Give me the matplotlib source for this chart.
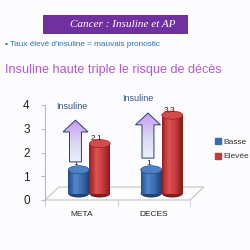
import matplotlib
matplotlib.use("Agg")
import matplotlib.pyplot as plt
import numpy as np
from matplotlib.patches import Ellipse, FancyArrow, Rectangle, Polygon
from matplotlib.colors import LinearSegmentedColormap
from matplotlib.lines import Line2D
from matplotlib.transforms import ScaledTranslation

categories = ["META", "DECES"]
basse = [1.0, 1.0]
elevee = [2.1, 3.3]
basse_labels = ["1", "1"]
elevee_labels = ["2,1", "3,3"]
series_names = ["Basse", "Elevée"]
# insulin arrows (bottom / tip, in chart units)
arrow_lo = [1.33, 1.49]
arrow_hi = [3.09, 3.39]

plt.rcParams['font.family'] = ['Liberation Sans', 'DejaVu Sans']
fig = plt.figure(figsize=(2.5, 2.5), dpi=100, facecolor="#fcfbfd")

# slide header
fig.patches.append(Rectangle((0.172, 0.868), 0.576, 0.072, transform=fig.transFigure,
                             facecolor="#7030a0", edgecolor="#5a2088", lw=0.6))
fig.text(0.492, 0.903, "Cancer : Insuline et AP", color="white", fontsize=8,
         family="Liberation Serif", style="italic", ha="center", va="center")
fig.text(0.02, 0.82, "▪ Taux élevé d'insuline = mauvais pronostic", color="#2e6fae",
         fontsize=5.9, ha="left", va="center")
fig.text(0.02, 0.72, "Insuline haute triple le risque de décès", color="#b458d6",
         fontsize=9.1, ha="left", va="center")

ax = fig.add_axes([0.18, 0.2, 0.58, 0.38])
ax.set_facecolor("none")
x = np.arange(len(categories)) + 0.5
w = 0.29
depth = ax.transData + ScaledTranslation(0.08, 0.065, fig.dpi_scale_trans)

# floor
ax.add_patch(Polygon([(0, 0), (1, 0), (1 + 14 / 145, 13 / 95), (14 / 145, 13 / 95)],
                     closed=True, transform=ax.transAxes, facecolor="none",
                     edgecolor="#c4c4c4", lw=0.8, clip_on=False))

blue_cm = LinearSegmentedColormap.from_list("b", ["#22508e", "#4f86cc", "#3a6cb0", "#1d4478"])
red_cm = LinearSegmentedColormap.from_list("r", ["#9c2222", "#de5252", "#c23a3a", "#861a1a"])
eh = 0.34


def cylinder(xc, val, cmap, top, label):
    ax.add_patch(Ellipse((xc, 0), w, eh, facecolor=cmap(1.0), lw=0, transform=depth, zorder=2))
    n = 24
    ax.bar(xc - w / 2 + np.arange(n) * w / n, [val] * n, width=w / n * 1.05, align="edge",
           color=[cmap(i / (n - 1)) for i in range(n)], lw=0, transform=depth, zorder=3)
    ax.add_patch(Ellipse((xc, val), w, eh, facecolor=top, edgecolor=cmap(1.0), lw=0.4,
                         transform=depth, zorder=4))
    ax.annotate(label, (xc, val), xytext=(-3, 6), textcoords="offset pixels", fontsize=6,
                ha="center", va="center", color="#222222", xycoords=depth, zorder=6)


for i in range(len(categories)):
    cylinder(x[i] - w / 2, basse[i], blue_cm, "#4d80c4", basse_labels[i])
    cylinder(x[i] + w / 2, elevee[i], red_cm, "#d24a4a", elevee_labels[i])

grad_cm = LinearSegmentedColormap.from_list("g", ["#eaf0fa", "#d8d4f4", "#c898f0"])
for i in range(len(categories)):
    ax_x = x[i] - w / 2 - 0.045
    arr = FancyArrow(ax_x, arrow_lo[i], 0, arrow_hi[i] - arrow_lo[i], width=0.165,
                     head_width=0.345, head_length=0.5, length_includes_head=True,
                     facecolor="none", edgecolor="#2b3f6c", lw=0.7, transform=depth, zorder=8)
    ax.add_patch(arr)
    grad = np.linspace(0, 1, 100).reshape(-1, 1)
    ax.imshow(grad, extent=[ax_x - 0.2, ax_x + 0.2, arrow_lo[i], arrow_hi[i]], origin="lower",
              aspect="auto", cmap=grad_cm, transform=depth, clip_path=arr, zorder=7)
    ax.annotate("Insuline", (ax_x, arrow_hi[i]), xytext=(-4 - 6 * i, 14), textcoords="offset pixels",
                xycoords=depth, fontsize=6.5, color="#2f5384", ha="center", va="center")

ax.set_xlim(0, 2)
ax.set_ylim(0, 4)
for s in ["top", "right", "bottom"]:
    ax.spines[s].set_visible(False)
ax.spines["left"].set_color("#b8b8b8")
ax.spines["left"].set_linewidth(0.8)
ax.set_yticks([0, 1, 2, 3, 4])
ax.tick_params(axis="y", length=3, color="#b8b8b8", labelsize=8.5, pad=8, labelcolor="#222222")
ax.set_xticks(x)
ax.set_xticklabels(categories)
ax.set_xticks([0, 1, 2], minor=True)
ax.tick_params(axis="x", which="major", length=0, labelsize=6, pad=8, labelcolor="#222222")
ax.tick_params(axis="x", which="minor", length=4, color="#c4c4c4", direction="out")

handles = [Line2D([], [], marker="s", ls="", color=c, markersize=4) for c in ["#3a6cb0", "#c23a3a"]]
fig.legend(handles, series_names, loc="upper left", bbox_to_anchor=(0.862, 0.446), frameon=False,
           fontsize=6, handlelength=0.6, handletextpad=0.35, labelspacing=0.75,
           borderaxespad=0, borderpad=0, labelcolor="#333333")

fig.savefig("out.png", dpi=100, facecolor=fig.get_facecolor())
